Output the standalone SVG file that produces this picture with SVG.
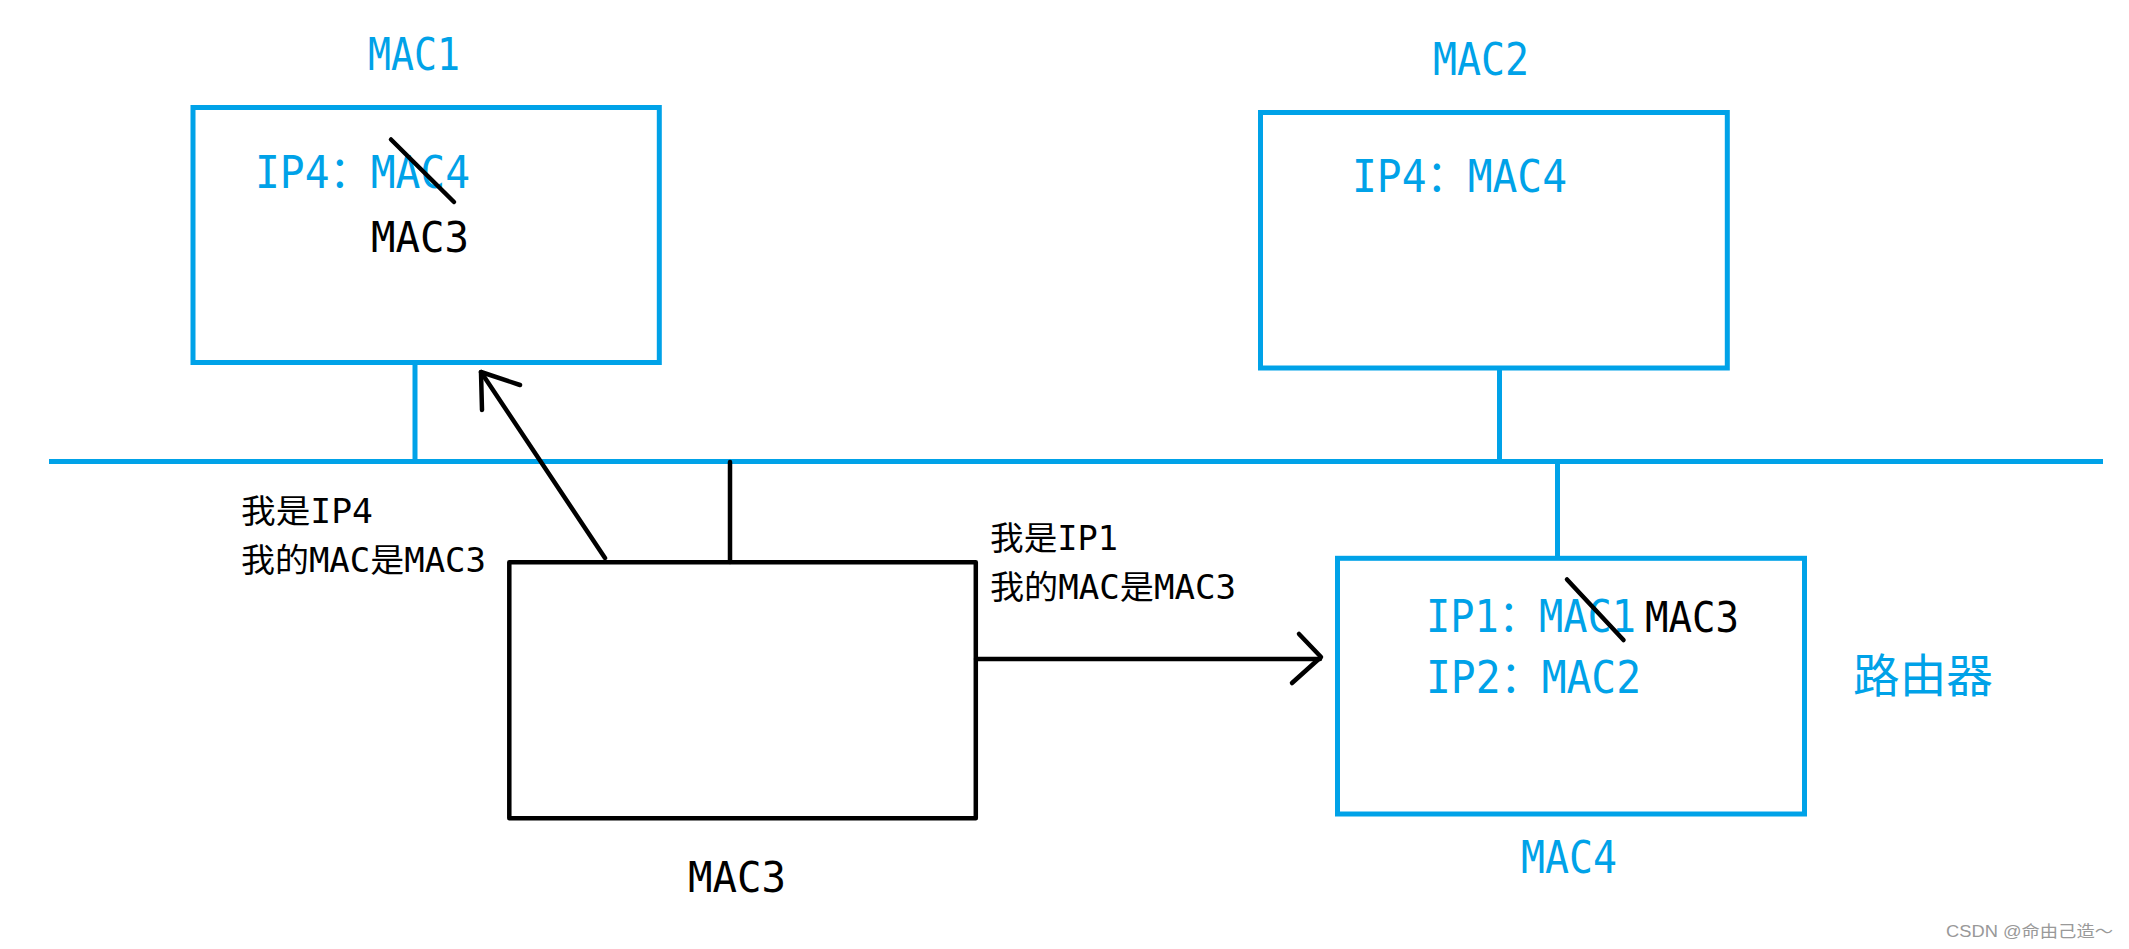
<svg xmlns="http://www.w3.org/2000/svg" width="2129" height="949" viewBox="0 0 2129 949">
<style>
.bl{fill:none;stroke:#00A2E8;stroke-width:5}
.bk{fill:none;stroke:#000;stroke-width:4.5;stroke-linecap:round;stroke-linejoin:round}
.tb{fill:#00A2E8;font-family:"DejaVu Sans Mono","Noto Sans CJK SC",monospace}
.tk{fill:#000;font-family:"DejaVu Sans Mono","Noto Sans CJK SC",monospace}
.cjk{font-family:"Noto Sans CJK SC",sans-serif}
</style>
<rect width="2129" height="949" fill="#fff"/>
<g id="connectors">
<line class="bl" x1="49" y1="461.5" x2="2103" y2="461.5"/>
<line class="bl" x1="415" y1="363" x2="415" y2="461"/>
<line class="bl" x1="1499.5" y1="368" x2="1499.5" y2="461"/>
<line class="bl" x1="1557.5" y1="461" x2="1557.5" y2="558"/>
<line class="bk" x1="730" y1="462" x2="730" y2="562" stroke-linecap="butt"/>
<line class="bk" x1="605" y1="558" x2="481" y2="372"/>
<polyline class="bk" points="482,410 481,372 520,385"/>
<line class="bk" x1="976" y1="659" x2="1320" y2="659"/>
<polyline class="bk" points="1299,634 1321,657 1292,683"/>
</g>
<g id="mac1">
<text class="tb" x="368" y="70" font-size="44" textLength="92" lengthAdjust="spacingAndGlyphs">MAC1</text>
<rect class="bl" x="193" y="107.5" width="466.3" height="255"/>
<text class="tb" x="255" y="188" font-size="44" textLength="215" lengthAdjust="spacingAndGlyphs">IP4：MAC4</text>
<line class="bk" x1="391" y1="139.5" x2="454" y2="202"/>
<text class="tk" x="371" y="252" font-size="42" textLength="98" lengthAdjust="spacingAndGlyphs">MAC3</text>
</g>
<g id="mac2">
<text class="tb" x="1433" y="75" font-size="44" textLength="96" lengthAdjust="spacingAndGlyphs">MAC2</text>
<rect class="bl" x="1260.5" y="112.5" width="466.8" height="255.5"/>
<text class="tb" x="1352" y="192" font-size="44" textLength="215" lengthAdjust="spacingAndGlyphs">IP4：MAC4</text>
</g>
<g id="host">
<rect class="bk" x="509.3" y="562.3" width="466.5" height="256" stroke-linejoin="miter"/>
<text class="tk" x="688" y="892" font-size="42" textLength="98" lengthAdjust="spacingAndGlyphs">MAC3</text>
<text class="tk" x="241" y="523" font-size="33" textLength="132" lengthAdjust="spacingAndGlyphs">我是IP4</text>
<text class="tk" x="241" y="572" font-size="33" textLength="245" lengthAdjust="spacingAndGlyphs">我的MAC是MAC3</text>
<text class="tk" x="990" y="550" font-size="33" textLength="128" lengthAdjust="spacingAndGlyphs">我是IP1</text>
<text class="tk" x="990" y="599" font-size="33" textLength="246" lengthAdjust="spacingAndGlyphs">我的MAC是MAC3</text>
</g>
<g id="router">
<rect class="bl" x="1337.5" y="558.3" width="467" height="255.7"/>
<text class="tb" x="1426" y="632" font-size="44" textLength="210" lengthAdjust="spacingAndGlyphs">IP1：MAC1</text>
<line class="bk" x1="1567" y1="579.5" x2="1623.5" y2="640"/>
<text class="tk" x="1645" y="632" font-size="42" textLength="94" lengthAdjust="spacingAndGlyphs">MAC3</text>
<text class="tb" x="1426" y="693" font-size="44" textLength="215" lengthAdjust="spacingAndGlyphs">IP2：MAC2</text>
<text class="tb cjk" x="1853" y="692" font-size="46" textLength="140" lengthAdjust="spacingAndGlyphs">路由器</text>
<text class="tb" x="1521" y="873" font-size="44" textLength="96" lengthAdjust="spacingAndGlyphs">MAC4</text>
</g>
<text x="1946" y="937" font-size="16" fill="#999" font-family="Liberation Sans,'Noto Sans CJK SC',sans-serif" textLength="167" lengthAdjust="spacingAndGlyphs">CSDN @命由己造～</text>
</svg>
